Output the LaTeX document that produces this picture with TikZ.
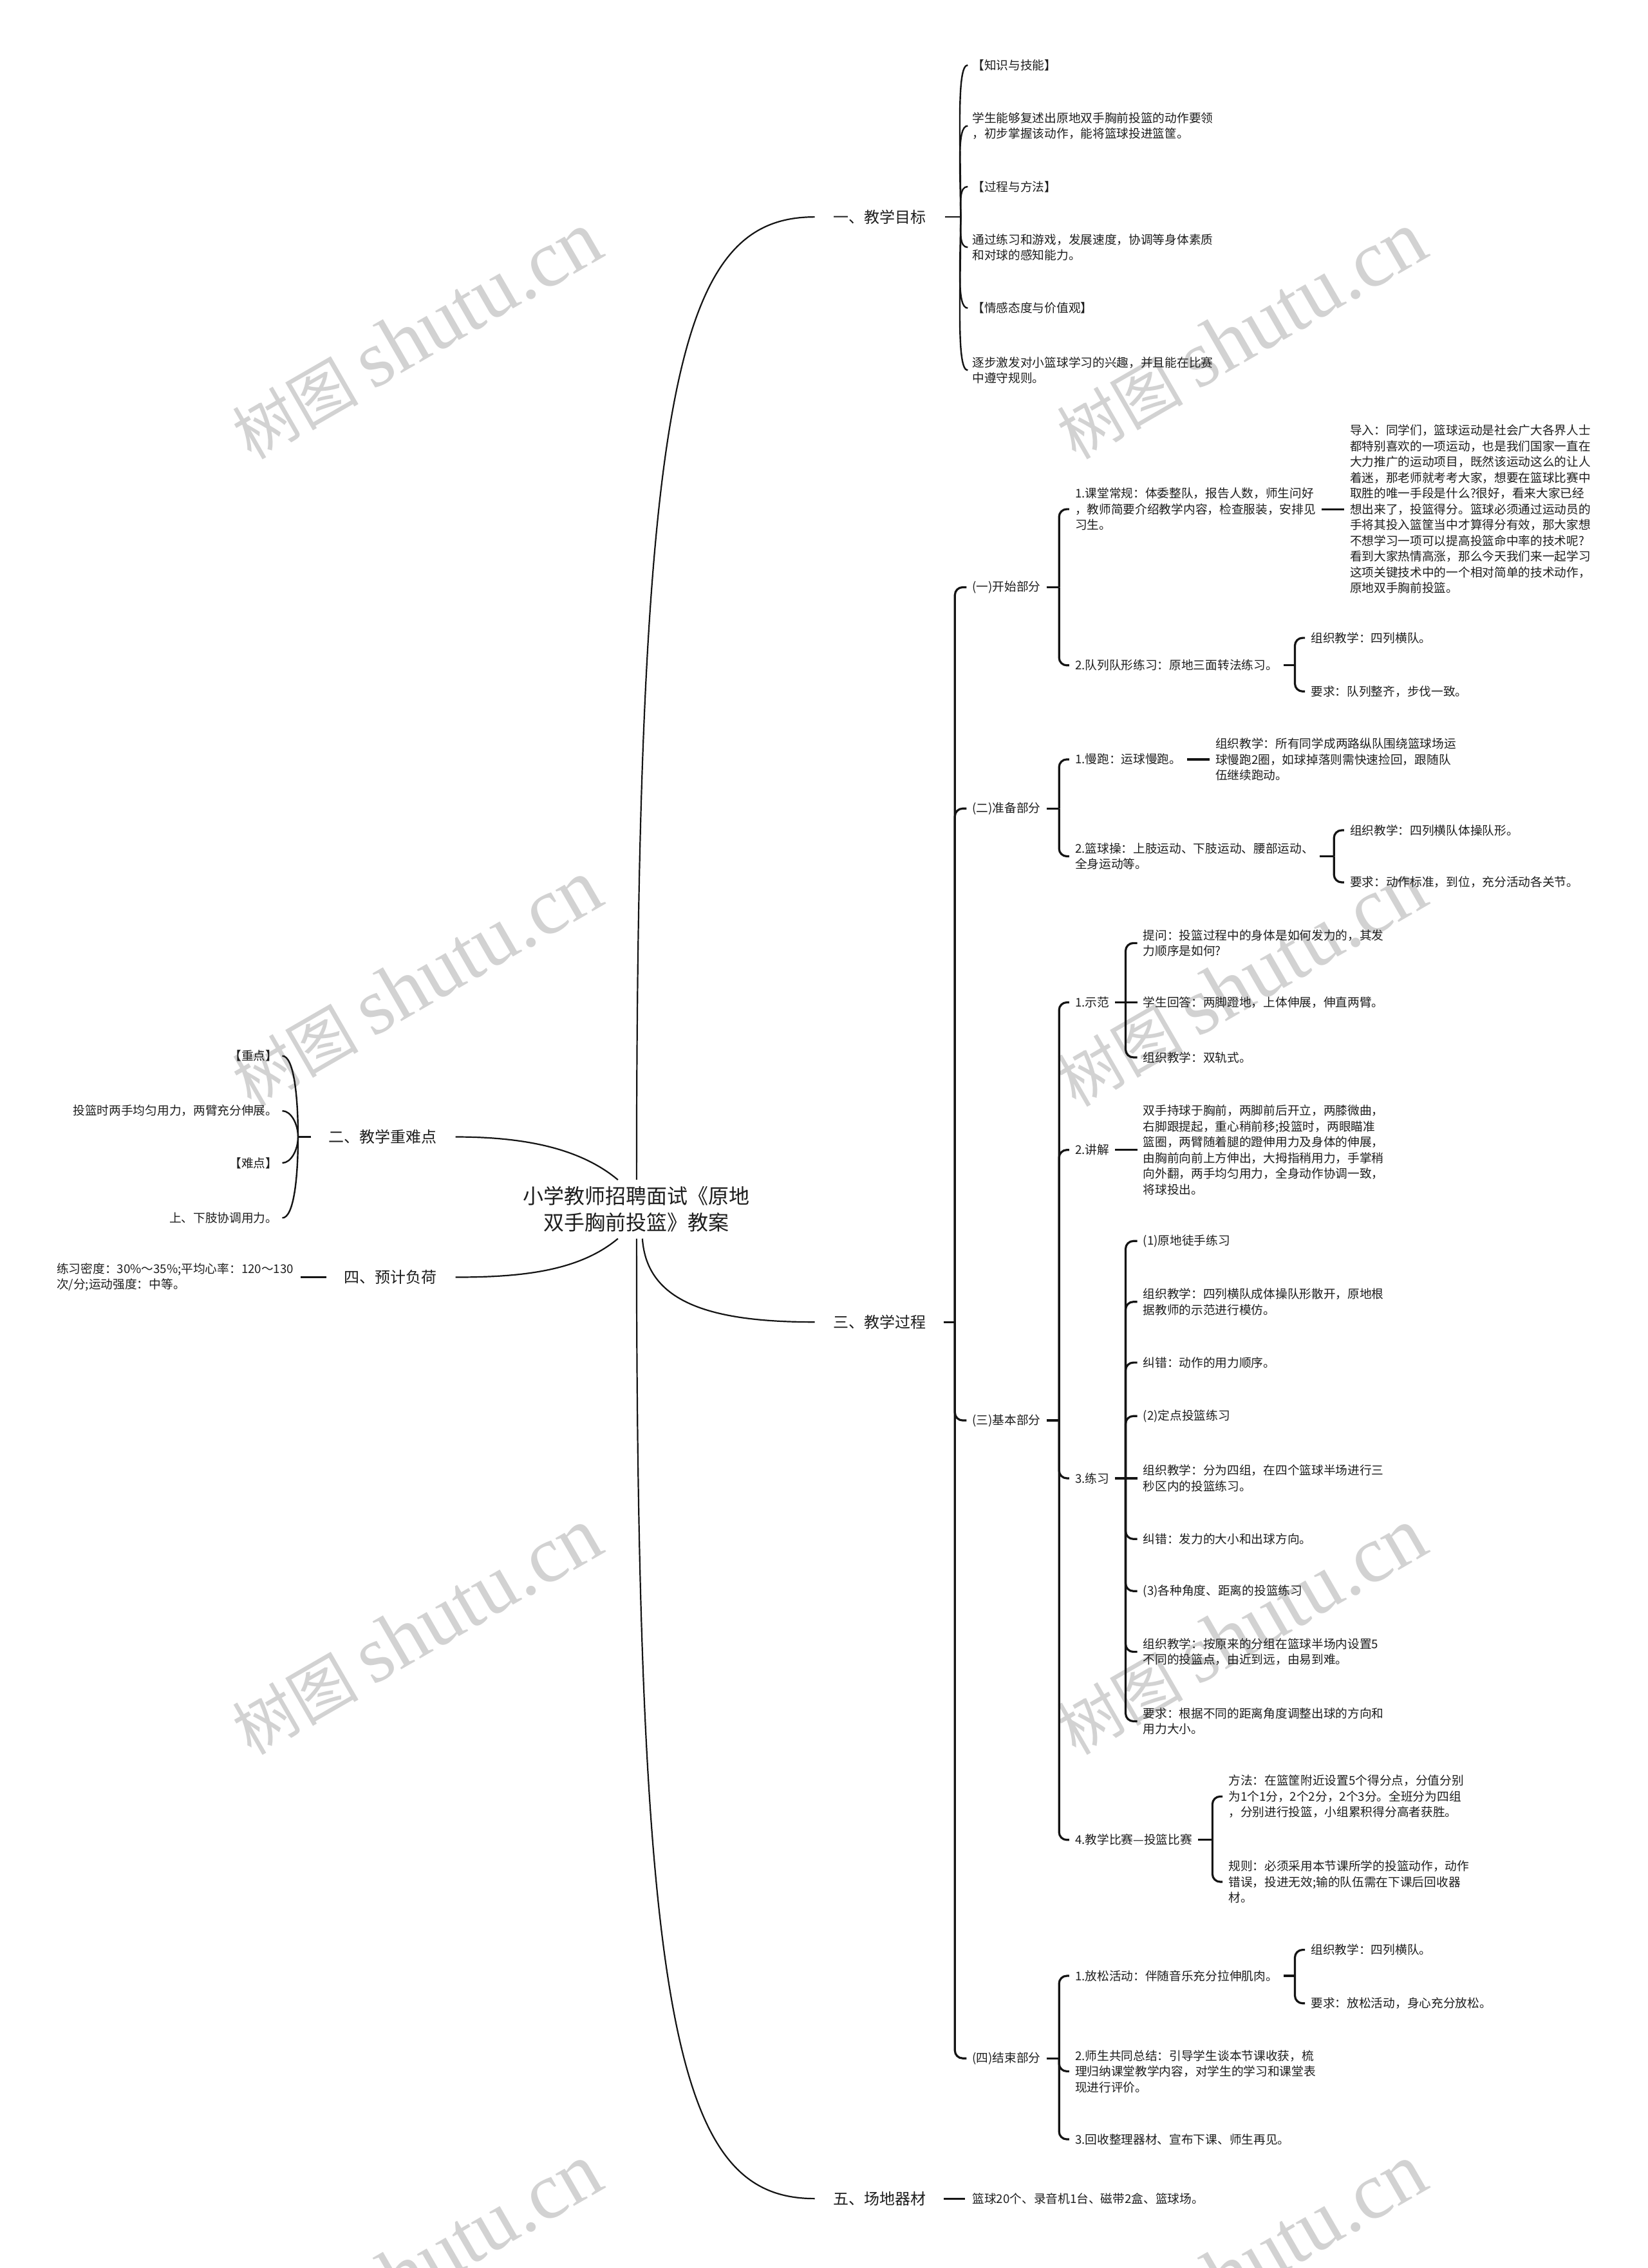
\documentclass[tikz,border=0pt]{standalone}
\usepackage{fontspec}
\setmainfont{Noto Sans CJK SC}
\newfontfamily\wmlatin{Liberation Serif}
\usetikzlibrary{calc}
\definecolor{txt}{HTML}{1E1E1E}
\definecolor{ln}{HTML}{141414}
\definecolor{wmc}{HTML}{D2D2D2}
\tikzset{
 leaf/.style={font=\fontsize{18.7}{24.5}\selectfont, align=left, inner sep=0pt, anchor=west, text=txt},
 leafr/.style={font=\fontsize{18.7}{24.5}\selectfont, align=right, inner sep=0pt, anchor=east, text=txt},
 lvl/.style={font=\fontsize{24}{30}\selectfont, inner sep=0pt, anchor=west, text=txt},
 lvll/.style={lvl, anchor=east},
 rootn/.style={font=\fontsize{32}{41}\selectfont, align=center, inner sep=10pt, text=txt},
 mainc/.style={draw=ln, line width=2.2pt},
 br/.style={draw=ln, line width=3.2pt, rounded corners=12pt},
 brs/.style={draw=ln, line width=3.2pt},
 thinl/.style={draw=ln, line width=2.4pt},
 wm/.style={text=wmc, rotate=30, inner sep=0pt, font=\fontsize{98}{98}\selectfont}
}
\begin{document}
\begin{tikzpicture}[x=2.2476pt,y=-2.2476pt]
\fill[white] (0,0) rectangle (1139,1568);
\useasboundingbox (0,0) rectangle (1139,1568);
% watermarks
\begin{scope}
\clip (0,0) rectangle (1139,1568);
\foreach \wx in {288,858}{
  \foreach \wy in {232,680,1128,1568}{
    \node[wm] at (\wx,\wy) {树图 {\wmlatin\fontsize{125}{125}\selectfont shutu.cn}};
  }
}
\end{scope}

% root
\node[rootn] (root) at (440,836) {小学教师招聘面试《原地\\双手胸前投篮》教案};

% level 1
\node[lvl] (g1) at (576,150) {一、教学目标};
\node[lvl] (g3) at (576,914) {三、教学过程};
\node[lvl] (g5) at (576,1520) {五、场地器材};
\node[lvll] (g2) at (302,786) {二、教学重难点};
\node[lvll] (g4) at (302,883) {四、预计负荷};

% root curves
\draw[mainc] (root.north) .. controls (440,260) and (470,150) .. ([xshift=-29pt]g1.west);
\draw[mainc] ([xshift=9pt]root.south) .. controls (447,900) and (490,914) .. ([xshift=-29pt]g3.west);
\draw[mainc] (root.south) .. controls (440,1410) and (470,1520) .. ([xshift=-29pt]g5.west);
\draw[mainc] ([xshift=-29pt]root.north) .. controls (400,793) and (360,786) .. ([xshift=29pt]g2.east);
\draw[mainc] ([xshift=-29pt]root.south) .. controls (400,879) and (360,883) .. ([xshift=29pt]g4.east);

% ---- 一、教学目标
\node[leaf] (a1) at (672,45) {【知识与技能】};
\node[leaf] (a2) at (672,87) {学生能够复述出原地双手胸前投篮的动作要领\\，初步掌握该动作，能将篮球投进篮筐。};
\node[leaf] (a3) at (672,129) {【过程与方法】};
\node[leaf] (a4) at (672,171) {通过练习和游戏，发展速度，协调等身体素质\\和对球的感知能力。};
\node[leaf] (a5) at (672,213) {【情感态度与价值观】};
\node[leaf] (a6) at (672,256) {逐步激发对小篮球学习的兴趣，并且能在比赛\\中遵守规则。};
\coordinate (J1) at (664,150);
\draw[thinl] ([xshift=29pt]g1.east) -- (J1);
\draw[thinl] (J1) .. controls +(0,-52) and +(-8,0) .. ([xshift=-7pt]a1.west);
\draw[thinl] (J1) .. controls +(0,-31) and +(-8,0) .. ([xshift=-7pt]a2.west);
\draw[thinl] (J1) .. controls +(0,-10) and +(-6,0) .. ([xshift=-7pt]a3.west);
\draw[thinl] (J1) .. controls +(0,10) and +(-6,0) .. ([xshift=-7pt]a4.west);
\draw[thinl] (J1) .. controls +(0,31) and +(-8,0) .. ([xshift=-7pt]a5.west);
\draw[thinl] (J1) .. controls +(0,53) and +(-8,0) .. ([xshift=-7pt]a6.west);

% ---- 二、教学重难点
\node[leafr] (l1) at (192,730) {【重点】};
\node[leafr] (l2) at (192,768) {投篮时两手均匀用力，两臂充分伸展。};
\node[leafr] (l3) at (192,804) {【难点】};
\node[leafr] (l4) at (192,842) {上、下肢协调用力。};
\coordinate (J2) at (206,786);
\draw[thinl] ([xshift=-27pt]g2.west) -- (J2);
\draw[thinl] (J2) .. controls +(0,-28) and +(8,0) .. ([xshift=7pt]l1.east);
\draw[thinl] (J2) .. controls +(0,-9) and +(6,0) .. ([xshift=7pt]l2.east);
\draw[thinl] (J2) .. controls +(0,9) and +(6,0) .. ([xshift=7pt]l3.east);
\draw[thinl] (J2) .. controls +(0,28) and +(8,0) .. ([xshift=7pt]l4.east);

% ---- 四、预计负荷
\node[leafr, align=left] (n4) at (203,883) {练习密度：30\%～35\%;平均心率：120～130\\次/分;运动强度：中等。};
\draw[brs] ([xshift=-27pt]g4.west) -- ([xshift=11pt]n4.east);

% ---- 五、场地器材
\node[leaf] (p5) at (672,1520) {篮球20个、录音机1台、磁带2盒、篮球场。};
\draw[brs] ([xshift=27pt]g5.east) -- ([xshift=-11pt]p5.west);

% ---- 三、教学过程
\node[leaf] (b1) at (672,406) {(一)开始部分};
\node[leaf] (b2) at (672,559) {(二)准备部分};
\node[leaf] (b3) at (672,982) {(三)基本部分};
\node[leaf] (b4) at (672,1423) {(四)结束部分};
\coordinate (s3) at (660,914);
\draw[brs] ([xshift=27pt]g3.east) -- (s3);
\foreach \c in {b1,b2,b3,b4} \draw[br] (s3) -- (s3 |- \c.west) -- ([xshift=-9pt]\c.west);

% (一)开始部分
\node[leaf] (c11) at (743,352) {1.课堂常规：体委整队，报告人数，师生问好\\，教师简要介绍教学内容，检查服装，安排见\\习生。};
\node[leaf] (c12) at (743,460) {2.队列队形练习：原地三面转法练习。};
\coordinate (sb1) at (732,406);
\draw[brs] ([xshift=9pt]b1.east) -- (sb1);
\foreach \c in {c11,c12} \draw[br] (sb1) -- (sb1 |- \c.west) -- ([xshift=-9pt]\c.west);
\node[leaf] (d111) at (933,352) {导入：同学们，篮球运动是社会广大各界人士\\都特别喜欢的一项运动，也是我们国家一直在\\大力推广的运动项目，既然该运动这么的让人\\着迷，那老师就考考大家，想要在篮球比赛中\\取胜的唯一手段是什么?很好，看来大家已经\\想出来了，投篮得分。篮球必须通过运动员的\\手将其投入篮筐当中才算得分有效，那大家想\\不想学习一项可以提高投篮命中率的技术呢?\\看到大家热情高涨，那么今天我们来一起学习\\这项关键技术中的一个相对简单的技术动作，\\原地双手胸前投篮。};
\draw[brs] ([xshift=9pt]c11.east) -- ([xshift=-9pt]d111.west);
\node[leaf] (e1) at (906,441) {组织教学：四列横队。};
\node[leaf] (e2) at (906,478) {要求：队列整齐，步伐一致。};
\coordinate (sc12) at (895,460);
\draw[brs] ([xshift=9pt]c12.east) -- (sc12);
\foreach \c in {e1,e2} \draw[br] (sc12) -- (sc12 |- \c.west) -- ([xshift=-9pt]\c.west);

% (二)准备部分
\node[leaf] (c21) at (743,525) {1.慢跑：运球慢跑。};
\node[leaf] (c22) at (743,592) {2.篮球操：上肢运动、下肢运动、腰部运动、\\全身运动等。};
\coordinate (sb2) at (732,559);
\draw[brs] ([xshift=9pt]b2.east) -- (sb2);
\foreach \c in {c21,c22} \draw[br] (sb2) -- (sb2 |- \c.west) -- ([xshift=-9pt]\c.west);
\node[leaf] (d211) at (840,525) {组织教学：所有同学成两路纵队围绕篮球场运\\球慢跑2圈，如球掉落则需快速捡回，跟随队\\伍继续跑动。};
\draw[brs] ([xshift=9pt]c21.east) -- ([xshift=-9pt]d211.west);
\node[leaf] (e21) at (933,574) {组织教学：四列横队体操队形。};
\node[leaf] (e22) at (933,610) {要求：动作标准，到位，充分活动各关节。};
\coordinate (sc22) at (922,592);
\draw[brs] ([xshift=9pt]c22.east) -- (sc22);
\foreach \c in {e21,e22} \draw[br] (sc22) -- (sc22 |- \c.west) -- ([xshift=-9pt]\c.west);

% (三)基本部分
\node[leaf] (c31) at (743,693) {1.示范};
\node[leaf] (c32) at (743,795) {2.讲解};
\node[leaf] (c33) at (743,1022) {3.练习};
\node[leaf] (c34) at (743,1272) {4.教学比赛—投篮比赛};
\coordinate (sb3) at (732,982);
\draw[brs] ([xshift=9pt]b3.east) -- (sb3);
\foreach \c in {c31,c32,c33,c34} \draw[br] (sb3) -- (sb3 |- \c.west) -- ([xshift=-9pt]\c.west);

\node[leaf] (f1) at (790,652) {提问：投篮过程中的身体是如何发力的，其发\\力顺序是如何?};
\node[leaf] (f2) at (790,693) {学生回答：两脚蹬地，上体伸展，伸直两臂。};
\node[leaf] (f3) at (790,731) {组织教学：双轨式。};
\coordinate (sc31) at (778,693);
\draw[brs] ([xshift=9pt]c31.east) -- (sc31);
\foreach \c in {f1,f3} \draw[br] (sc31) -- (sc31 |- \c.west) -- ([xshift=-9pt]\c.west);
\draw[brs] (sc31) -- ([xshift=-9pt]f2.west);

\node[leaf] (d321) at (790,795) {双手持球于胸前，两脚前后开立，两膝微曲，\\右脚跟提起，重心稍前移;投篮时，两眼瞄准\\篮圈，两臂随着腿的蹬伸用力及身体的伸展，\\由胸前向前上方伸出，大拇指稍用力，手掌稍\\向外翻，两手均匀用力，全身动作协调一致，\\将球投出。};
\draw[brs] ([xshift=9pt]c32.east) -- ([xshift=-9pt]d321.west);

\node[leaf] (h1) at (790,858) {(1)原地徒手练习};
\node[leaf] (h2) at (790,900) {组织教学：四列横队成体操队形散开，原地根\\据教师的示范进行模仿。};
\node[leaf] (h3) at (790,942) {纠错：动作的用力顺序。};
\node[leaf] (h4) at (790,979) {(2)定点投篮练习};
\node[leaf] (h5) at (790,1022) {组织教学：分为四组，在四个篮球半场进行三\\秒区内的投篮练习。};
\node[leaf] (h6) at (790,1064) {纠错：发力的大小和出球方向。};
\node[leaf] (h7) at (790,1100) {(3)各种角度、距离的投篮练习};
\node[leaf] (h8) at (790,1142) {组织教学：按原来的分组在篮球半场内设置5\\不同的投篮点，由近到远，由易到难。};
\node[leaf] (h9) at (790,1190) {要求：根据不同的距离角度调整出球的方向和\\用力大小。};
\coordinate (sc33) at (778,1022);
\draw[brs] ([xshift=9pt]c33.east) -- (sc33);
\foreach \i in {1,2,3,4,6,7,8,9} \draw[br] (sc33) -- (sc33 |- h\i.west) -- ([xshift=-9pt]h\i.west);
\draw[brs] (sc33) -- ([xshift=-9pt]h5.west);

\node[leaf] (k1) at (849,1242) {方法：在篮筐附近设置5个得分点，分值分别\\为1个1分，2个2分，2个3分。全班分为四组\\，分别进行投篮，小组累积得分高者获胜。};
\node[leaf] (k2) at (849,1301) {规则：必须采用本节课所学的投篮动作，动作\\错误，投进无效;输的队伍需在下课后回收器\\材。};
\coordinate (sc34) at (838,1272);
\draw[brs] ([xshift=9pt]c34.east) -- (sc34);
\foreach \c in {k1,k2} \draw[br] (sc34) -- (sc34 |- \c.west) -- ([xshift=-9pt]\c.west);

% (四)结束部分
\node[leaf] (c41) at (743,1366) {1.放松活动：伴随音乐充分拉伸肌肉。};
\node[leaf] (c42) at (743,1432) {2.师生共同总结：引导学生谈本节课收获，梳\\理归纳课堂教学内容，对学生的学习和课堂表\\现进行评价。};
\node[leaf] (c43) at (743,1479) {3.回收整理器材、宣布下课、师生再见。};
\coordinate (sb4) at (732,1423);
\draw[brs] ([xshift=9pt]b4.east) -- (sb4);
\foreach \c in {c41,c42,c43} \draw[br] (sb4) -- (sb4 |- \c.west) -- ([xshift=-9pt]\c.west);
\node[leaf] (m1) at (906,1348) {组织教学：四列横队。};
\node[leaf] (m2) at (906,1385) {要求：放松活动，身心充分放松。};
\coordinate (sc41) at (895,1366);
\draw[brs] ([xshift=9pt]c41.east) -- (sc41);
\foreach \c in {m1,m2} \draw[br] (sc41) -- (sc41 |- \c.west) -- ([xshift=-9pt]\c.west);
\end{tikzpicture}
\end{document}
